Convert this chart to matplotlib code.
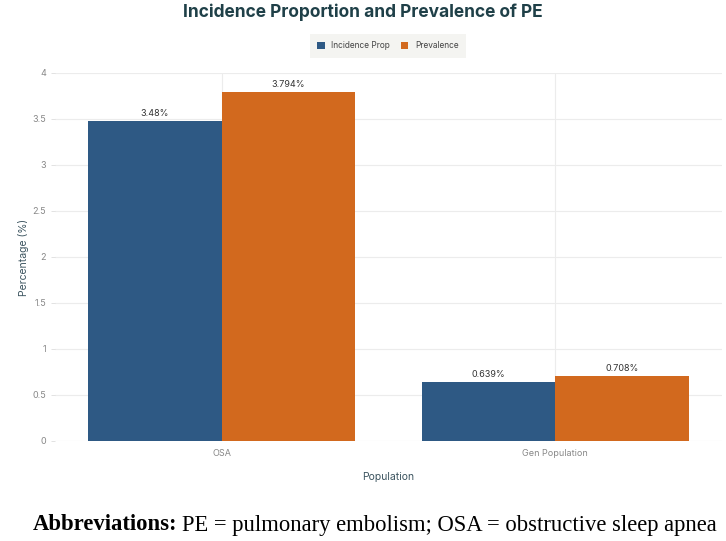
import numpy as np
import matplotlib.pyplot as plt

categories = ["OSA", "Gen Population"]
series_names = ["Incidence Prop", "Prevalence"]
incidence = [3.48, 0.639]
prevalence = [3.794, 0.708]
labels_inc = ["3.48%", "0.639%"]
labels_prev = ["3.794%", "0.708%"]
yticks = [0, 0.5, 1, 1.5, 2, 2.5, 3, 3.5, 4]
ytick_labels = ["0", "0.5", "1", "1.5", "2", "2.5", "3", "3.5", "4"]

colors = ["#2E5984", "#D2691E"]
plt.rcParams['font.family'] = ['Inter', 'DejaVu Sans']

fig = plt.figure(figsize=(7.26, 5.41), dpi=100)
ax = fig.add_axes([55 / 726, 100 / 541, 667 / 726, 368 / 541])

x = np.arange(len(categories))
w = 0.4
b1 = ax.bar(x - w / 2, incidence, w, color=colors[0], label=series_names[0], zorder=3)
b2 = ax.bar(x + w / 2, prevalence, w, color=colors[1], label=series_names[1], zorder=3)
for bars, labs in [(b1, labels_inc), (b2, labels_prev)]:
    for r, lab in zip(bars, labs):
        ax.text(r.get_x() + r.get_width() / 2, r.get_height() + 0.03, lab,
                ha="center", va="bottom", fontsize=6.5, color="#333333", zorder=4)

ax.set_xlim(-0.5, 1.5)
ax.set_ylim(0, 4)
ax.set_xticks(x)
ax.set_xticklabels(categories)
ax.set_yticks(yticks)
ax.set_yticklabels(ytick_labels)
ax.tick_params(axis="both", labelsize=6.5, colors="#888888", length=3, width=0.6, color="#dddddd")
ax.tick_params(axis="x", length=0, pad=6)
ax.grid(True, color="#ececec", linewidth=0.8, zorder=0)
for s in ax.spines.values():
    s.set_visible(False)

ax.set_xlabel("Population", fontsize=7.5, color="#3d5560", labelpad=10)
ax.set_ylabel("Percentage (%)", fontsize=7.5, color="#3d5560", labelpad=2)

fig.text(0.5, 1 - 12 / 541, "Incidence Proportion and Prevalence of PE", ha="center", va="center",
         fontsize=12.5, fontweight="bold", color="#1f4048")

leg = fig.legend(loc="center", bbox_to_anchor=(388 / 726, 1 - 46 / 541), ncol=2, frameon=True,
                 fontsize=6, handlelength=0.9, handleheight=0.9, columnspacing=1.3,
                 handletextpad=0.8, borderpad=0.6)
leg.get_frame().set_facecolor("#f2f2ee")
leg.get_frame().set_edgecolor("none")
leg.get_frame().set_boxstyle("square")
for t in leg.get_texts():
    t.set_color("#444444")

# caption: bold lead-in followed by regular text, both serif
ty = 1 - 525 / 541
t1 = fig.text(33 / 726, ty, "Abbreviations:", ha="left", va="center",
              fontsize=16.3, fontweight="bold", family="Liberation Serif", color="black")
fig.canvas.draw()
bb = t1.get_window_extent()
x2 = (bb.x1 + 5) / fig.bbox.width
fig.text(x2, ty, "PE = pulmonary embolism; OSA = obstructive sleep apnea", ha="left", va="center",
         fontsize=16.3, family="Liberation Serif", color="black")

fig.savefig("out.png", dpi=100)
